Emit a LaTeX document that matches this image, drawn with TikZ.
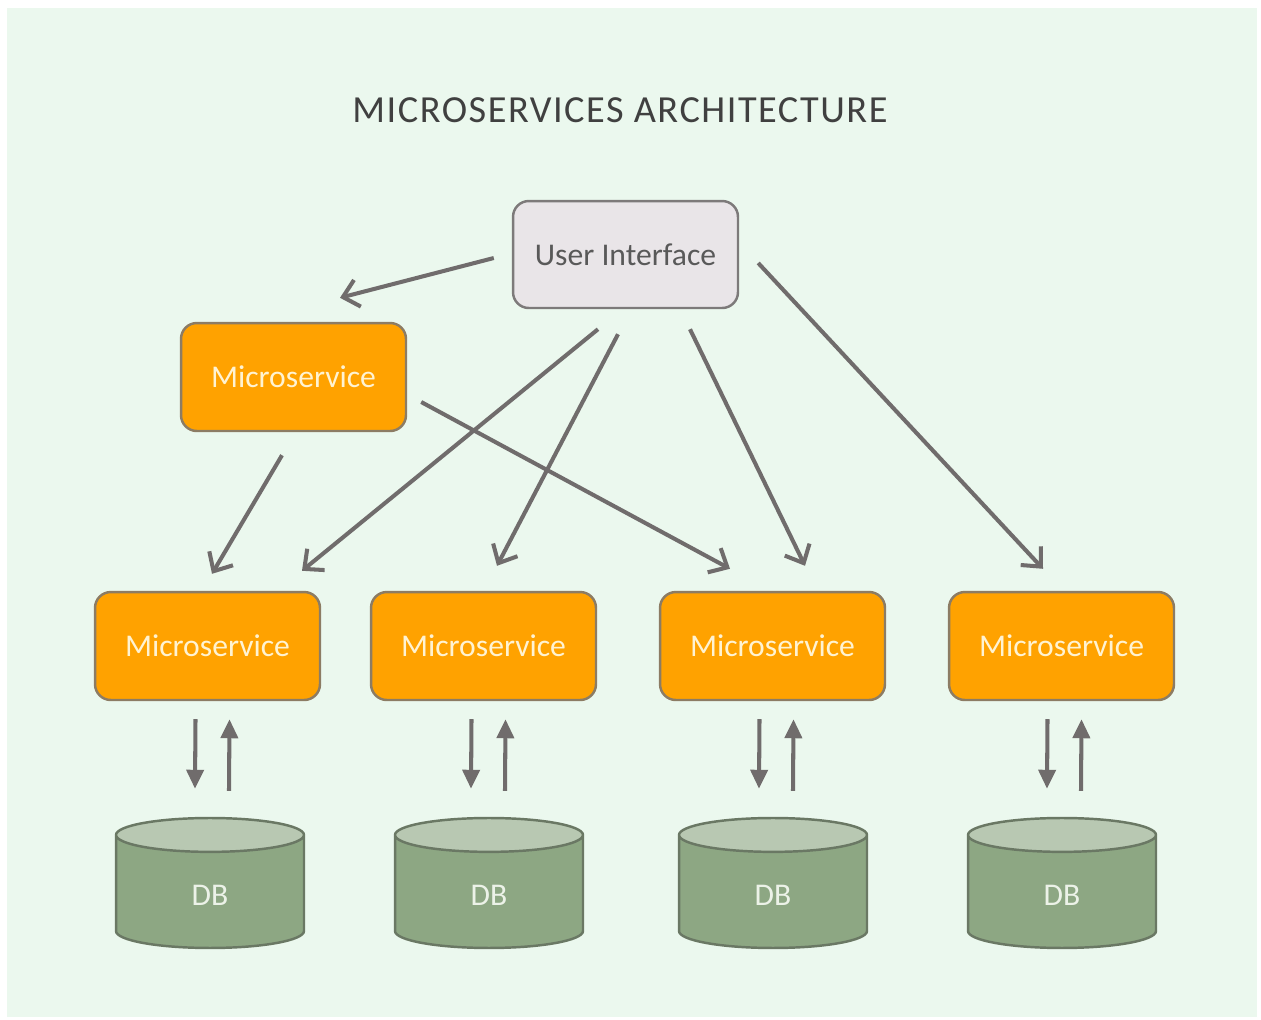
\documentclass[tikz,border=0pt]{standalone}
\usepackage{fontspec}
\setmainfont{Carlito}
\usepackage{xcolor}
\usetikzlibrary{calc, shapes.geometric, arrows.meta, positioning}

\definecolor{bgGreen}{RGB}{235,248,238}
\definecolor{uiFill}{RGB}{233,229,232}
\definecolor{boxLine}{RGB}{125,122,122}
\definecolor{msFill}{RGB}{255,162,0}
\definecolor{msLine}{RGB}{140,124,100}
\definecolor{msText}{RGB}{255,243,210}
\definecolor{dbBody}{RGB}{141,167,131}
\definecolor{dbTop}{RGB}{184,200,178}
\definecolor{dbLine}{RGB}{106,120,100}
\definecolor{dbText}{RGB}{236,242,232}
\definecolor{arrowGray}{RGB}{112,108,108}
\definecolor{titleGray}{RGB}{64,64,64}

\begin{document}
\begin{tikzpicture}[
    x=0.02cm, y=-0.02cm,
    call_arrow/.style={draw=arrowGray, line width=2.3pt, -{Straight Barb[length=0.3cm, width=0.55cm]}},
    db_arrow/.style={draw=arrowGray, line width=2.3pt, -{Triangle[length=0.38cm, width=0.34cm]}},
    % Nodes
    ui_node/.style={rectangle, rounded corners=9pt, draw=boxLine, fill=uiFill, line width=1.4pt, minimum width=4.5cm, minimum height=2.14cm, align=center, font=\fontsize{18}{22}\selectfont, text=black!65},
    ms_node/.style={rectangle, rounded corners=9pt, draw=msLine, fill=msFill, line width=1.4pt, minimum width=4.5cm, minimum height=2.16cm, align=center, font=\fontsize{18}{22}\selectfont, text=msText},
    db_node/.style={cylinder, shape border rotate=90, aspect=0.7, draw=dbLine, line width=1.4pt, cylinder uses custom fill, cylinder body fill=dbBody, cylinder end fill=dbTop, minimum width=3.76cm, minimum height=2.6cm, font=\fontsize{18}{22}\selectfont, text=dbText}
]
    % page and backdrop
    \useasboundingbox (0,0) rectangle (1261,1019);
    \fill [white] (0,0) rectangle (1261,1019);
    \fill [bgGreen] (7,8) rectangle (1257,1017);

    \node [font=\fontsize{21.8}{26}\selectfont\addfontfeatures{LetterSpace=4}, text=titleGray] (title) at (620,110) {MICROSERVICES ARCHITECTURE};

    % =========================================================================
    % USER INTERFACE + SERVICES
    % =========================================================================
    \node [ui_node] (ui) at (625.5,254.5) {User Interface};
    \node [ms_node] (ms0) at (293.5,377) {Microservice};

    \node [ms_node] (ms1) at (207.5,646) {Microservice};
    \node [ms_node] (ms2) at (483.5,646) {Microservice};
    \node [ms_node] (ms3) at (772.5,646) {Microservice};
    \node [ms_node] (ms4) at (1061.5,646) {Microservice};

    % calls from the UI and the upper service
    \draw [call_arrow] ($(ui.west)+(-18,3.5)$) -- ($(ms0.north)+(46.5,-24)$);
    \draw [call_arrow] ($(ms0.south)+(-11.5,23)$) -- ($(ms1.north)+(4.5,-17)$);
    \draw [call_arrow] ($(ms0.east)+(14,25)$) -- ($(ms3.north)+(-42.5,-22)$);
    \draw [call_arrow] ($(ui.south)+(-27.5,20)$) -- ($(ms1.north)+(94.5,-20)$);
    \draw [call_arrow] ($(ui.south)+(-7.5,25)$) -- ($(ms2.north)+(13.5,-25)$);
    \draw [call_arrow] ($(ui.south)+(64.5,20)$) -- ($(ms3.north)+(32.5,-25)$);
    \draw [call_arrow] ($(ui.east)+(19,8.5)$) -- ($(ms4.north)+(-18.5,-22)$);

    % =========================================================================
    % DATABASES
    % =========================================================================
    \node [db_node] (db1) at (210,895) {DB};
    \node [db_node] (db2) at (489,895) {DB};
    \node [db_node] (db3) at (773,895) {DB};
    \node [db_node] (db4) at (1062,895) {DB};

    % read / write pairs
    \draw [db_arrow] ($(ms1.south)+(-12,18)$) -- ($(db1.top)+(-15,-28)$);
    \draw [db_arrow] ($(db1.top)+(19,-26)$) -- ($(ms1.south)+(22,18)$);
    \draw [db_arrow] ($(ms2.south)+(-12,18)$) -- ($(db2.top)+(-18,-28)$);
    \draw [db_arrow] ($(db2.top)+(16,-26)$) -- ($(ms2.south)+(22,18)$);
    \draw [db_arrow] ($(ms3.south)+(-13,18)$) -- ($(db3.top)+(-14,-28)$);
    \draw [db_arrow] ($(db3.top)+(20,-26)$) -- ($(ms3.south)+(21,18)$);
    \draw [db_arrow] ($(ms4.south)+(-14,18)$) -- ($(db4.top)+(-15,-28)$);
    \draw [db_arrow] ($(db4.top)+(19,-26)$) -- ($(ms4.south)+(20,18)$);
\end{tikzpicture}
\end{document}
